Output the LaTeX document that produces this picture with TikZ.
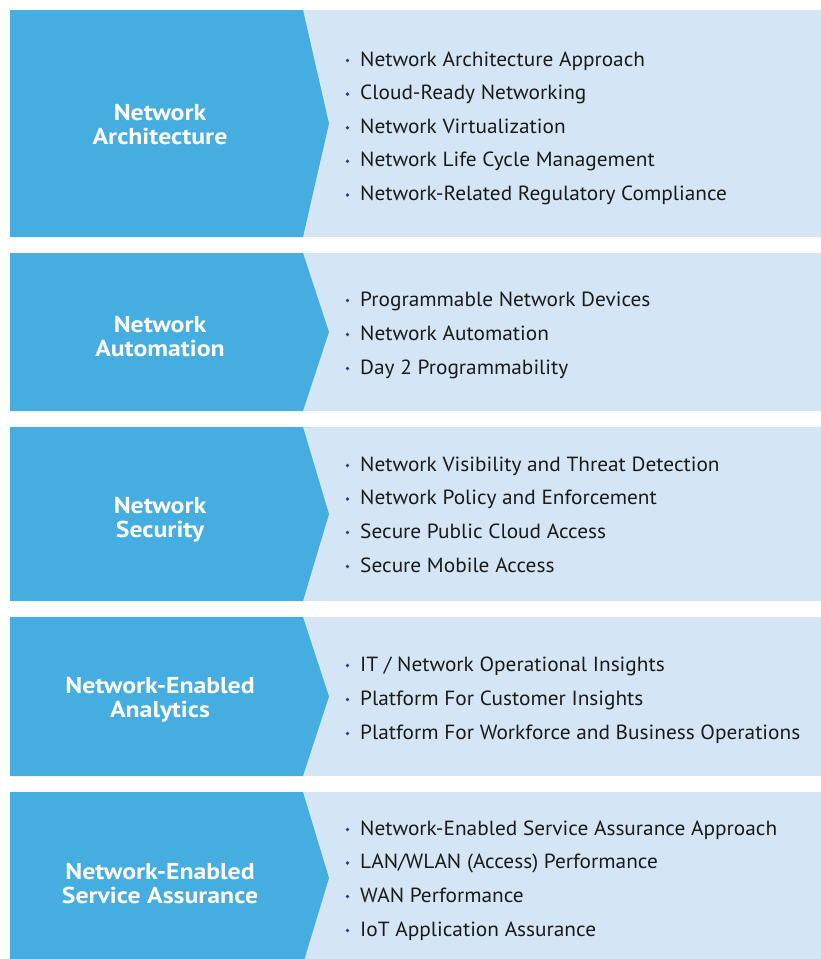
\documentclass[tikz,border=0pt]{standalone}
\usepackage{fontspec}
\setmainfont{PT Sans}
\definecolor{bandblue}{HTML}{45ADDF}
\definecolor{panel}{HTML}{D4E6F5}
\definecolor{dot}{HTML}{2E3F8F}
\definecolor{ink}{HTML}{1A1A1A}
\tikzset{
  item/.style={anchor=base west, inner sep=0pt, text=ink, font=\fontsize{20.5}{24}\selectfont\addfontfeatures{FakeStretch=1.04}},
  title/.style={align=center, text=white, inner sep=0pt, font=\bfseries\fontsize{23}{24}\selectfont\addfontfeatures{FakeStretch=1.12}},
  panelbox/.style={fill=panel},
  chevron/.style={fill=bandblue},
  bulletdot/.style={fill=dot}
}
\begin{document}
\begin{tikzpicture}[x=1pt,y=-1pt]
\useasboundingbox (0,0) rectangle (821,959);
% bands: top, bottom, tip
\foreach \t/\b/\m in {10/237/123.5, 253/411/332, 427/601/514, 617/776/696.5}{
  \fill[panelbox] (10,\t) rectangle (821,\b);
  \fill[chevron] (10,\t) -- (303,\t) -- (329,\m) -- (303,\b) -- (10,\b) -- cycle;
}
\fill[panelbox] (10,792) rectangle (821,959);
\fill[chevron] (10,792) -- (303,792) -- (329,878) -- (304.5,959) -- (10,959) -- cycle;
% titles
\node[title] (t1) at (160,125) {Network\\Architecture};
\node[title] (t2) at (160,336.5) {Network\\Automation};
\node[title] (t3) at (160,519.5) {Network\\Security};
\node[title] (t4) at (160,700) {Network-Enabled\\Analytics};
\node[title] (t5) at (160,884) {Network-Enabled\\Service Assurance};
% items
\foreach \y/\txt [count=\i] in {
  66/{Network Architecture Approach},
  99.6/{Cloud-Ready Networking},
  133.2/{Network Virtualization},
  166.8/{Network Life Cycle Management},
  200.4/{Network-Related Regulatory Compliance},
  306/{Programmable Network Devices},
  340/{Network Automation},
  374/{Day 2 Programmability},
  471/{Network Visibility and Threat Detection},
  504.5/{Network Policy and Enforcement},
  538/{Secure Public Cloud Access},
  572/{Secure Mobile Access},
  671/{IT / Network Operational Insights},
  705/{Platform For Customer Insights},
  739/{Platform For Workforce and Business Operations},
  835/{Network-Enabled Service Assurance Approach},
  868.5/{LAN/WLAN (Access) Performance},
  902/{WAN Performance},
  936/{IoT Application Assurance}}{
  \node[item] (i\i) at (360,\y) {\txt};
  \fill[bulletdot] ([shift={(-12.5,-5.5)}]i\i.base west) circle (1.9);
}
\end{tikzpicture}
\end{document}
